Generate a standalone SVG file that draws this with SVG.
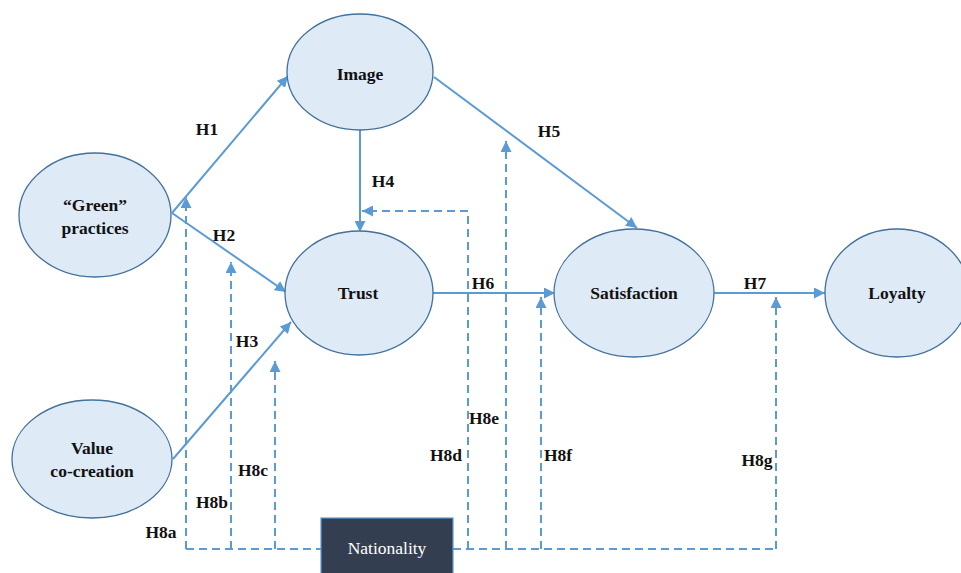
<svg xmlns="http://www.w3.org/2000/svg" width="961" height="573" viewBox="0 0 961 573">
<defs>
<marker id="ah" viewBox="0 0 10 10" refX="10" refY="5" markerWidth="11" markerHeight="11" markerUnits="userSpaceOnUse" orient="auto">
<path d="M0,0 L10,5 L0,10 z" fill="#5B9BD5"/>
</marker>
</defs>
<style>
.node ellipse{fill:#DEEAF6;stroke:#41719C;stroke-width:1.3}
.lbl,.h,.nat{font-family:'Liberation Serif','DejaVu Serif',serif;font-size:17.5px;text-anchor:middle}
.lbl,.h{font-weight:bold;fill:#111}
.nat{fill:#fff}
.c{fill:none;stroke:#5B9BD5;stroke-width:2}
.d{fill:none;stroke:#5B9BD5;stroke-width:2;stroke-dasharray:8,5}
</style>
<rect width="961" height="573" fill="#fff"/>
<g id="connectors">
<line class="c" x1="172" y1="213" x2="288" y2="76" marker-end="url(#ah)"/>
<line class="c" x1="172" y1="213" x2="286" y2="292" marker-end="url(#ah)"/>
<line class="c" x1="173" y1="459" x2="291" y2="322" marker-end="url(#ah)"/>
<line class="c" x1="360" y1="130" x2="360" y2="232" marker-end="url(#ah)"/>
<line class="c" x1="434" y1="77" x2="637" y2="228" marker-end="url(#ah)"/>
<line class="c" x1="433" y1="293" x2="555" y2="293" marker-end="url(#ah)"/>
<line class="c" x1="714" y1="293" x2="825" y2="293" marker-end="url(#ah)"/>
<line class="d" x1="186" y1="549" x2="321" y2="549"/>
<line class="d" x1="453" y1="549" x2="776" y2="549"/>
<line class="d" x1="186" y1="549" x2="186" y2="197" marker-end="url(#ah)"/>
<line class="d" x1="231" y1="549" x2="231" y2="262" marker-end="url(#ah)"/>
<line class="d" x1="275" y1="549" x2="275" y2="361" marker-end="url(#ah)"/>
<polyline class="d" points="468,549 468,211 362,211" marker-end="url(#ah)"/>
<line class="d" x1="506" y1="549" x2="506" y2="141" marker-end="url(#ah)"/>
<line class="d" x1="541" y1="549" x2="541" y2="297" marker-end="url(#ah)"/>
<line class="d" x1="776" y1="549" x2="776" y2="297" marker-end="url(#ah)"/>
</g>
<g id="labels">
<text class="h" x="207" y="135">H1</text>
<text class="h" x="224" y="241">H2</text>
<text class="h" x="247" y="347">H3</text>
<text class="h" x="383" y="187">H4</text>
<text class="h" x="549" y="137">H5</text>
<text class="h" x="483" y="289">H6</text>
<text class="h" x="755" y="289">H7</text>
<text class="h" x="161" y="538">H8a</text>
<text class="h" x="212" y="508">H8b</text>
<text class="h" x="253" y="476">H8c</text>
<text class="h" x="446" y="461">H8d</text>
<text class="h" x="484" y="424">H8e</text>
<text class="h" x="558" y="461">H8f</text>
<text class="h" x="757" y="466">H8g</text>
</g>
<g id="image" class="node">
<ellipse cx="360" cy="72" rx="73" ry="58"/>
<text class="lbl" x="360" y="80">Image</text>
</g>
<g id="green" class="node">
<ellipse cx="95" cy="215" rx="76" ry="62"/>
<text class="lbl" x="95" y="211">“Green”</text>
<text class="lbl" x="95" y="234">practices</text>
</g>
<g id="value" class="node">
<ellipse cx="92" cy="459" rx="80" ry="59"/>
<text class="lbl" x="92" y="454">Value</text>
<text class="lbl" x="92" y="477">co-creation</text>
</g>
<g id="trust" class="node">
<ellipse cx="359" cy="293" rx="74" ry="62"/>
<text class="lbl" x="358" y="299">Trust</text>
</g>
<g id="satisfaction" class="node">
<ellipse cx="634" cy="293" rx="80" ry="64"/>
<text class="lbl" x="634" y="299">Satisfaction</text>
</g>
<g id="loyalty" class="node">
<ellipse cx="897" cy="293" rx="72" ry="64"/>
<text class="lbl" x="897" y="299">Loyalty</text>
</g>
<g id="nationality">
<rect x="321" y="518" width="132" height="60" fill="#333F50" stroke="#5B9BD5" stroke-width="1.2"/>
<text class="nat" x="387" y="554">Nationality</text>
</g>
</svg>
